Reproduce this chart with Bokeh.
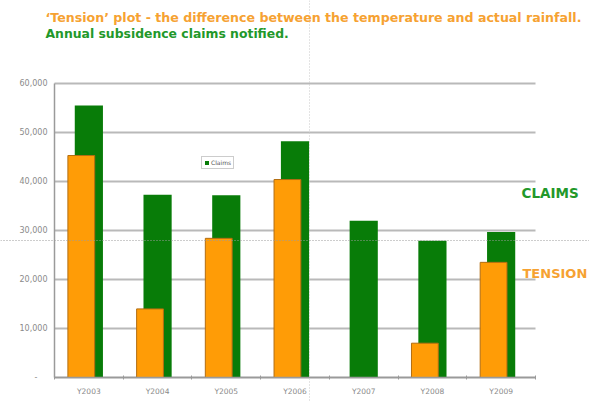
from bokeh.plotting import figure
from bokeh.models import (Label, Span, FixedTicker, NumeralTickFormatter,
                          Range1d, LinearAxis, Legend, LegendItem)
from bokeh.embed import file_html
from bokeh.resources import INLINE

# Annual figures
years = ["Y2003", "Y2004", "Y2005", "Y2006", "Y2007", "Y2008", "Y2009"]
claims = [55500, 37300, 37200, 48200, 32000, 27900, 29700]
tension = [45300, 14000, 28400, 40400, float("nan"), 7000, 23500]
y_ticks = [0, 10000, 20000, 30000, 40000, 50000, 60000]

GREEN = "#087c08"
ORANGE = "#ff9c06"
TITLE_ORANGE = "#f6a232"
TITLE_GREEN = "#22982a"
FONT = "DejaVu Sans"

W, H = 589, 401
# chart box inside the slide, in pixels from the top-left corner
BOX_L, BOX_R, BOX_T, BOX_B = 54, 535, 83, 377

n = len(years)
idx = list(range(n))
x_per_px = n / (BOX_R - BOX_L)
y_per_px = y_ticks[-1] / (BOX_B - BOX_T)

def data_x(px):
    return -0.5 + (px - BOX_L) * x_per_px

def data_y(py):
    return (BOX_B - py) * y_per_px

# the frame fills the whole slide so headings and guides can sit anywhere
p = figure(width=W, height=H, output_backend="svg", toolbar_location=None,
           x_range=Range1d(data_x(0), data_x(W)), y_range=Range1d(data_y(H), data_y(0)),
           x_axis_type=None, y_axis_type=None,
           min_border=0, min_border_left=0, min_border_right=0,
           min_border_top=0, min_border_bottom=0)
p.outline_line_color = None
p.background_fill_color = "white"
p.border_fill_color = "white"

# horizontal gridlines across the chart box
p.segment(x0=-0.5, x1=n - 0.5, y0=y_ticks, y1=y_ticks,
          line_color="#b9b9b9", line_width=2)

# bars: claims behind, tension in front and shifted left
g = p.vbar(x=idx, top=claims, width=0.41, bottom=0, fill_color=GREEN,
           line_color=None)
p.vbar(x=[i - 0.11 for i in idx], top=tension, width=0.39, bottom=0,
       fill_color=ORANGE, line_color="#b26d12", line_width=1)

# y axis pinned to the left edge of the chart box
yaxis = LinearAxis(fixed_location=-0.5, bounds=(0, y_ticks[-1]))
yaxis.ticker = FixedTicker(ticks=y_ticks)
yaxis.formatter = NumeralTickFormatter(format="0,0")
yaxis.major_label_overrides = {0: "-    "}
yaxis.major_tick_out = 0
yaxis.major_tick_in = 0
yaxis.minor_tick_line_color = None
yaxis.axis_line_color = "#9a9a9a"
yaxis.axis_line_width = 1.5
yaxis.major_label_text_font = FONT
yaxis.major_label_text_font_size = "8px"
yaxis.major_label_text_color = "#8a8a8a"
yaxis.major_label_standoff = 7
p.add_layout(yaxis, "left")

# x axis along zero, with ticks between the years
xaxis = LinearAxis(fixed_location=0, bounds=(-0.5, n - 0.5))
xaxis.ticker = FixedTicker(ticks=idx, minor_ticks=[i - 0.5 for i in range(n + 1)])
xaxis.major_label_overrides = {i: y for i, y in zip(idx, years)}
xaxis.major_tick_line_color = None
xaxis.minor_tick_in = 2
xaxis.minor_tick_out = 2
xaxis.minor_tick_line_color = "#9a9a9a"
xaxis.axis_line_color = "#9a9a9a"
xaxis.axis_line_width = 1.5
xaxis.major_label_text_font = FONT
xaxis.major_label_text_font_size = "7.5px"
xaxis.major_label_text_color = "#8a8a8a"
xaxis.major_label_standoff = 3
p.add_layout(xaxis, "below")

# legend
legend = Legend(items=[LegendItem(label="Claims", renderers=[g])],
                location=(201, H - 169))
legend.label_text_font = FONT
legend.label_text_font_size = "6px"
legend.label_text_color = "#555555"
legend.glyph_width = 5
legend.glyph_height = 5
legend.label_height = 5
legend.label_standoff = 2
legend.padding = 2
legend.margin = 0
legend.spacing = 0
legend.border_line_color = "#999999"
legend.border_line_width = 1
p.add_layout(legend)

# dotted guides across the slide
p.add_layout(Span(location=data_x(309), dimension="height", line_color="#c8c8c8",
                  line_dash="1 2", line_width=1))
p.add_layout(Span(location=data_y(240), dimension="width", line_color="#9a9a9a",
                  line_dash="1 2", line_width=1))

# headings and side labels (screen px from the bottom-left corner, y = text middle)
def text(x, y, s, color, size):
    p.add_layout(Label(x=x, y=y, x_units="screen", y_units="screen", text=s,
                       text_color=color, text_font=FONT, text_font_size=size,
                       text_font_style="bold", text_baseline="middle"))

text(45, H - 16.5, "\u2018Tension\u2019 plot - the difference between the temperature and actual rainfall.",
     TITLE_ORANGE, "12.6px")
text(45, H - 32.5, "Annual subsidence claims notified.", TITLE_GREEN, "12.4px")
text(521, H - 192, "CLAIMS", TITLE_GREEN, "13.5px")
text(522, H - 273, "TENSION", TITLE_ORANGE, "13px")

open("out.html", "w").write(file_html(p, INLINE))
